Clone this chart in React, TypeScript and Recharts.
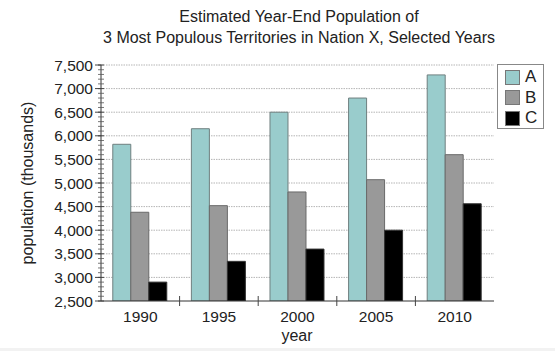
import React from "react";
import { BarChart, Bar, XAxis, YAxis, CartesianGrid } from "recharts";

const years = ["1990", "1995", "2000", "2005", "2010"];
const seriesA = [5820, 6150, 6500, 6800, 7290];
const seriesB = [4380, 4520, 4810, 5070, 5600];
const seriesC = [2900, 3340, 3600, 4000, 4560];
const majorTicks = [2500, 3000, 3500, 4000, 4500, 5000, 5500, 6000, 6500, 7000, 7500];
const legendItems = [
  { key: "a", label: "A", color: "#99CCCC" },
  { key: "b", label: "B", color: "#999999" },
  { key: "c", label: "C", color: "#000000" },
];

const minorTicks: number[] = [];
for (let v = 2500; v <= 7500; v += 100) minorTicks.push(v);

const data = years.map((y, i) => ({ year: y, a: seriesA[i], b: seriesB[i], c: seriesC[i] }));

const FONT = "'Liberation Sans', Arial, Helvetica, sans-serif";
const TEXT = "#222";

const YTick = (props: any) => {
  const { x, y, payload } = props;
  const v = payload.value as number;
  const major = v % 500 === 0;
  return (
    <g>
      {major ? (
        <>
          <line x1={x - 6} x2={x} y1={y} y2={y} stroke="#444" />
          <line x1={x - 3} x2={x + 3} y1={y} y2={y} stroke="#444" />
          <text x={x - 8} y={y} dy={5.5} textAnchor="end" fontSize={15.5} fontFamily={FONT} fill={TEXT}>
            {v.toLocaleString("en-US")}
          </text>
        </>
      ) : (
        <line x1={x - 3} x2={x + 3} y1={y} y2={y} stroke="#555" strokeWidth={0.8} />
      )}
    </g>
  );
};

const XTick = (props: any) => {
  const { x, y, payload, index, visibleTicksCount } = props;
  const off = payload.offset || 0;
  return (
    <g>
      {index < visibleTicksCount - 1 && (
        <line x1={x + off} x2={x + off} y1={y - 5} y2={y + 5} stroke="#444" />
      )}
      <text x={x} y={y + 21} textAnchor="middle" fontSize={15.5} fontFamily={FONT} fill={TEXT}>
        {payload.value}
      </text>
    </g>
  );
};

export default function App() {
  return (
    <div
      style={{
        position: "absolute",
        left: 0,
        top: 0,
        width: 555,
        height: 351,
        background: "#fff",
        fontFamily: FONT,
        color: TEXT,
        overflow: "hidden",
      }}
    >
      <div
        style={{
          position: "absolute",
          left: 0,
          width: 598,
          top: 7,
          textAlign: "center",
          fontSize: 16,
          lineHeight: "20.5px",
        }}
      >
        Estimated Year-End Population of
        <br />3 Most Populous Territories in Nation X, Selected Years
      </div>
      <BarChart
        width={555}
        height={351}
        data={data}
        margin={{ top: 65, right: 61, left: 0, bottom: 20 }}
        barCategoryGap="15%"
        barGap={0}
      >
        <CartesianGrid
          vertical={false}
          horizontalValues={majorTicks.slice(1)}
          stroke="#b5b5b5"
          strokeDasharray="1.5 1"
        />
        <XAxis
          dataKey="year"
          height={30}
          tickSize={0}
          tickMargin={0}
          interval={0}
          tick={<XTick />}
          axisLine={{ stroke: "#333" }}
          tickLine={false}
        />
        <YAxis
          width={101}
          domain={[2500, 7500]}
          ticks={minorTicks}
          interval={0}
          allowDataOverflow
          tickSize={0}
          tickMargin={0}
          tick={<YTick />}
          axisLine={{ stroke: "#333" }}
          tickLine={false}
        />
        <Bar dataKey="a" fill="#99CCCC" stroke="#6f7f7f" strokeWidth={1} isAnimationActive={false} />
        <Bar dataKey="b" fill="#999999" stroke="#6a6a6a" strokeWidth={1} isAnimationActive={false} />
        <Bar dataKey="c" fill="#000000" stroke="#333333" strokeWidth={1} isAnimationActive={false} />
      </BarChart>
      <div
        style={{
          position: "absolute",
          left: 12,
          top: 183,
          transform: "translate(-50%, -50%) rotate(-90deg)",
          transformOrigin: "center",
          marginLeft: 16,
          whiteSpace: "nowrap",
          fontSize: 16,
        }}
      >
        population (thousands)
      </div>
      <div
        style={{
          position: "absolute",
          left: 297,
          top: 327,
          transform: "translateX(-50%)",
          fontSize: 16,
        }}
      >
        year
      </div>
      <div
        style={{
          position: "absolute",
          left: 497,
          top: 64,
          width: 47,
          height: 65,
          border: "1px solid #888",
          background: "#fff",
          boxSizing: "border-box",
          paddingTop: 2,
        }}
      >
        {legendItems.map((it) => (
          <div key={it.key} style={{ display: "flex", alignItems: "center", height: 20.5, paddingLeft: 7 }}>
            <div
              style={{
                width: 15,
                height: 15,
                background: it.color,
                border: "1px solid #777",
                boxSizing: "border-box",
              }}
            />
            <span style={{ fontSize: 17, marginLeft: 5, lineHeight: "20px" }}>{it.label}</span>
          </div>
        ))}
      </div>
      <div style={{ position: "absolute", left: 0, top: 348, width: 555, height: 3, background: "#f2f2f2" }} />
    </div>
  );
}
